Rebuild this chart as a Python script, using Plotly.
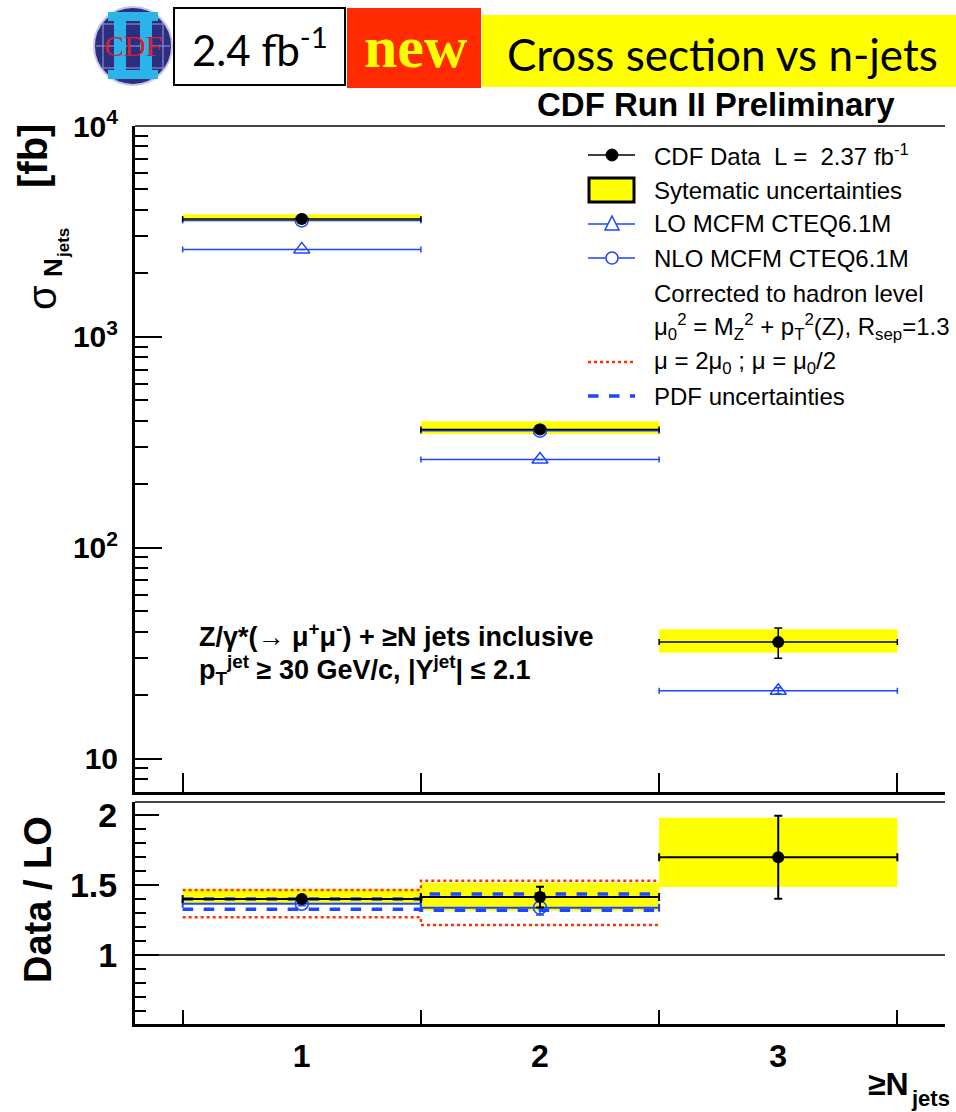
import math
import plotly.graph_objects as go

W, H = 956, 1112

# ---------------- data ----------------
n_jets = [1, 2, 3]
bin_half = [0.5, 0.5, 0.5]
bin_edges = [0.5, 1.5, 2.5, 3.5]

data_xs = [3620, 364, 35.7]
data_err_up = [35, 6, 5.9]
data_err_dn = [35, 6, 5.8]
syst_lo = [3515, 346, 31.8]
syst_hi = [3811, 398, 41.1]

lo_xs = [2600, 262, 21.0]
lo_err = [0, 0, 0.7]

nlo_jets = [1, 2]
nlo_xs = [3566, 359]

ratio = [1.40, 1.414, 1.698]
ratio_err_up = [0.012, 0.074, 0.297]
ratio_err_dn = [0.012, 0.074, 0.296]
ratio_syst_lo = [1.369, 1.316, 1.486]
ratio_syst_hi = [1.469, 1.516, 1.981]

nlo_ratio = [1.366, 1.338]
nlo_ratio_err = [0.015, 0.052]
scale_hi = [1.464, 1.531]
scale_lo = [1.269, 1.214]
pdf_hi = [1.400, 1.436]
pdf_lo = [1.326, 1.319]

y_major = [10, 100, 1000, 10000]
y_major_text = ["<b>10</b>", "<b>10<sup>2</sup></b>", "<b>10<sup>3</sup></b>", "<b>10<sup>4</sup></b>"]
r_major = [1, 1.5, 2]
r_major_text = ["<b>1</b>", "<b>1.5</b>", "<b>2</b>"]
x_labels = ["<b>1</b>", "<b>2</b>", "<b>3</b>"]

BLUE = "#1e46ff"
RED = "#ff3300"
YEL = "#ffff00"
FONT = "Liberation Sans, Arial, sans-serif"


def px(x):
    return x / W


def py(y):
    return 1 - y / H


fig = go.Figure()


def boxes(xc, lo, hi):
    xs, ys = [], []
    for c, a, b in zip(xc, lo, hi):
        xs += [c - 0.5, c + 0.5, c + 0.5, c - 0.5, c - 0.5, None]
        ys += [a, a, b, b, a, None]
    return xs, ys


def steps(xc, vals):
    xs = [c - 0.5 for c in xc] + [xc[-1] + 0.5]
    ys = list(vals) + [vals[-1]]
    return xs, ys


# ---------------- top panel ----------------
bx, by = boxes(n_jets, syst_lo, syst_hi)
fig.add_trace(go.Scatter(x=bx, y=by, fill="toself", fillcolor=YEL, mode="lines",
                         line=dict(width=0), xaxis="x", yaxis="y", hoverinfo="skip"))

fig.add_trace(go.Scatter(x=n_jets, y=lo_xs, mode="markers", xaxis="x", yaxis="y",
                         marker=dict(symbol="triangle-up-open", size=14, color=BLUE,
                                     line=dict(width=1.5, color=BLUE)),
                         error_x=dict(type="data", array=bin_half, color=BLUE, thickness=1.5, width=3),
                         error_y=dict(type="data", array=lo_err, color=BLUE, thickness=1.5, width=3)))

fig.add_trace(go.Scatter(x=nlo_jets, y=nlo_xs, mode="markers", xaxis="x", yaxis="y",
                         marker=dict(symbol="circle-open", size=13, color=BLUE,
                                     line=dict(width=1.5, color=BLUE)),
                         error_x=dict(type="data", array=bin_half[:2], color=BLUE, thickness=1.5, width=3)))

fig.add_trace(go.Scatter(x=n_jets, y=data_xs, mode="markers", xaxis="x", yaxis="y",
                         marker=dict(symbol="circle", size=12, color="black"),
                         error_x=dict(type="data", array=bin_half, color="black", thickness=1.5, width=3),
                         error_y=dict(type="data", array=data_err_up, arrayminus=data_err_dn,
                                      color="black", thickness=1.5, width=4)))

# ---------------- ratio panel ----------------
rx, ry = boxes(n_jets, ratio_syst_lo, ratio_syst_hi)
fig.add_trace(go.Scatter(x=rx, y=ry, fill="toself", fillcolor=YEL, mode="lines",
                         line=dict(width=0), xaxis="x2", yaxis="y2", hoverinfo="skip"))

for vals in (scale_hi, scale_lo):
    sx, sy = steps(nlo_jets, vals)
    fig.add_trace(go.Scatter(x=sx, y=sy, mode="lines", line_shape="hv", xaxis="x2", yaxis="y2",
                             line=dict(color=RED, width=2.5, dash="dot")))
for vals in (pdf_hi, pdf_lo):
    sx, sy = steps(nlo_jets, vals)
    fig.add_trace(go.Scatter(x=sx, y=sy, mode="lines", line_shape="hv", xaxis="x2", yaxis="y2",
                             line=dict(color=BLUE, width=3.5, dash="dash")))

fig.add_trace(go.Scatter(x=nlo_jets, y=nlo_ratio, mode="markers", xaxis="x2", yaxis="y2",
                         marker=dict(symbol="circle-open", size=13, color=BLUE,
                                     line=dict(width=1.5, color=BLUE)),
                         error_x=dict(type="data", array=bin_half[:2], color=BLUE, thickness=2, width=4),
                         error_y=dict(type="data", array=nlo_ratio_err, color=BLUE, thickness=1.5, width=4)))

fig.add_trace(go.Scatter(x=n_jets, y=ratio, mode="markers", xaxis="x2", yaxis="y2",
                         marker=dict(symbol="circle", size=12, color="black"),
                         error_x=dict(type="data", array=bin_half, color="black", thickness=2, width=4),
                         error_y=dict(type="data", array=ratio_err_up, arrayminus=ratio_err_dn,
                                      color="black", thickness=2, width=4)))

# ---------------- axes ----------------
XL, XR = 135, 945
minor_top = [m * 10 ** k for k in range(0, 4) for m in range(2, 10)] + [8, 9]
minor_top = sorted(set(v for v in minor_top if v not in y_major and v >= 7))
minor_r = [round(0.6 + 0.1 * i, 1) for i in range(15)]
minor_r = [v for v in minor_r if v not in r_major]

common_x = dict(domain=[px(XL), px(XR)], range=[0.3, 3.7], showgrid=False, zeroline=False,
                showline=True, linecolor="black", linewidth=3, ticks="", automargin=False)

fig.update_layout(
    width=W, height=H, margin=dict(l=0, r=0, t=0, b=0, pad=0, autoexpand=False), autosize=False,
    paper_bgcolor="white", plot_bgcolor="rgba(0,0,0,0)", showlegend=False,
    font=dict(family=FONT, color="black"),
    xaxis=dict(**common_x, anchor="y", showticklabels=False,
               minor=dict(tickmode="array", tickvals=bin_edges, ticks="inside", ticklen=19,
                          tickwidth=2, tickcolor="black", showgrid=False)),
    xaxis2=dict(**common_x, anchor="y2", matches="x", tickmode="array", tickvals=n_jets,
                ticktext=x_labels, tickfont=dict(size=32, family=FONT), ticklabelstandoff=2,
                minor=dict(tickmode="array", tickvals=bin_edges, ticks="inside", ticklen=14,
                           tickwidth=2, tickcolor="black", showgrid=False)),
    yaxis=dict(type="log", domain=[py(792), py(126)], range=[math.log10(6.95), 4.0], anchor="x",
               showgrid=False, zeroline=False, showline=True, linecolor="black", linewidth=3,
               ticks="inside", ticklen=27, tickwidth=2, tickcolor="black", automargin=False,
               tickmode="array", tickvals=y_major, ticktext=y_major_text,
               tickfont=dict(size=30, family=FONT), ticklabelstandoff=8,
               minor=dict(tickmode="array", tickvals=minor_top, ticks="inside", ticklen=13,
                          tickwidth=2, tickcolor="black", showgrid=False)),
    yaxis2=dict(domain=[py(1024), py(802)], range=[0.507, 2.093], anchor="x2",
                showgrid=False, zeroline=False, showline=True, linecolor="black", linewidth=3,
                ticks="inside", ticklen=24, tickwidth=2, tickcolor="black", automargin=False,
                tickmode="array", tickvals=r_major, ticktext=r_major_text,
                tickfont=dict(size=34, family=FONT), ticklabelstandoff=8,
                minor=dict(tickmode="array", tickvals=minor_r, ticks="inside", ticklen=11,
                           tickwidth=2, tickcolor="black", showgrid=False)),
)

shapes = []
# frame top lines
shapes.append(dict(type="line", xref="paper", yref="paper", x0=px(XL), x1=px(XR), y0=py(126), y1=py(126),
                   line=dict(color="#444444", width=2)))
shapes.append(dict(type="line", xref="paper", yref="paper", x0=px(XL), x1=px(XR), y0=py(802), y1=py(802),
                   line=dict(color="#444444", width=2)))
# ratio reference line at 1
shapes.append(dict(type="line", xref="x2 domain", yref="y2", x0=0, x1=1, y0=1, y1=1,
                   line=dict(color="black", width=1.5), layer="below"))

# ---------------- header ----------------
cx, cy, r = 133, 46, 39
shapes.append(dict(type="circle", xref="paper", yref="paper", x0=px(cx - r), x1=px(cx + r),
                   y0=py(cy + r), y1=py(cy - r), fillcolor="#2c2e80", line=dict(color="#c4c4e6", width=2)))
for hy in (24, 46, 68):
    d = math.sqrt(max(r * r - (hy - cy) ** 2, 0)) - 2
    shapes.append(dict(type="line", xref="paper", yref="paper", x0=px(cx - d), x1=px(cx + d),
                       y0=py(hy), y1=py(hy), line=dict(color="#9c9cd4", width=1)))
for vx in (103, 117, 149, 163):
    d = math.sqrt(max(r * r - (vx - cx) ** 2, 0)) - 2
    shapes.append(dict(type="line", xref="paper", yref="paper", x0=px(vx), x1=px(vx),
                       y0=py(cy - d), y1=py(cy + d), line=dict(color="#9c9cd4", width=1)))
for (x0, x1, y0, y1) in ((108, 158, 12, 21), (108, 158, 70, 79), (114, 126, 12, 79), (140, 152, 12, 79)):
    shapes.append(dict(type="rect", xref="paper", yref="paper", x0=px(x0), x1=px(x1),
                       y0=py(y1), y1=py(y0), fillcolor="#2ab4ea", line=dict(width=0)))
shapes.append(dict(type="rect", xref="paper", yref="paper", x0=px(174), x1=px(345), y0=py(85), y1=py(8),
                   fillcolor="white", line=dict(color="black", width=2)))
shapes.append(dict(type="rect", xref="paper", yref="paper", x0=px(347), x1=px(481), y0=py(88), y1=py(8),
                   fillcolor="#ff2a00", line=dict(width=0)))
shapes.append(dict(type="rect", xref="paper", yref="paper", x0=px(482), x1=px(956), y0=py(87), y1=py(15),
                   fillcolor=YEL, line=dict(width=0)))

# ---------------- legend symbols ----------------
LX0, LX1, LXC = 588, 635, 612
shapes.append(dict(type="line", xref="paper", yref="paper", x0=px(LX0), x1=px(LX1), y0=py(155), y1=py(155),
                   line=dict(color="black", width=1.5)))
shapes.append(dict(type="circle", xref="paper", yref="paper", x0=px(LXC - 6), x1=px(LXC + 6),
                   y0=py(161), y1=py(149), fillcolor="black", line=dict(color="black", width=1)))
shapes.append(dict(type="rect", xref="paper", yref="paper", x0=px(589), x1=px(634), y0=py(202), y1=py(178),
                   fillcolor=YEL, line=dict(color="black", width=3)))
shapes.append(dict(type="line", xref="paper", yref="paper", x0=px(LX0), x1=px(LX1), y0=py(224), y1=py(224),
                   line=dict(color=BLUE, width=1.5)))
shapes.append(dict(type="path", xref="paper", yref="paper",
                   path=f"M {px(LXC)},{py(216)} L {px(LXC + 7)},{py(230)} L {px(LXC - 7)},{py(230)} Z",
                   fillcolor="white", line=dict(color=BLUE, width=1.5)))
shapes.append(dict(type="line", xref="paper", yref="paper", x0=px(LX0), x1=px(LX1), y0=py(258), y1=py(258),
                   line=dict(color=BLUE, width=1.5)))
shapes.append(dict(type="circle", xref="paper", yref="paper", x0=px(LXC - 6), x1=px(LXC + 6),
                   y0=py(264), y1=py(252), fillcolor="white", line=dict(color=BLUE, width=1.5)))
shapes.append(dict(type="line", xref="paper", yref="paper", x0=px(LX0), x1=px(LX1), y0=py(362), y1=py(362),
                   line=dict(color=RED, width=2.5, dash="dot")))
shapes.append(dict(type="line", xref="paper", yref="paper", x0=px(LX0), x1=px(LX1), y0=py(396), y1=py(396),
                   line=dict(color=BLUE, width=3.5, dash="dash")))

fig.update_layout(shapes=shapes)

ann = []


def text(x, y, s, size, xanchor="left", yanchor="middle", color="black", family=FONT, angle=0):
    ann.append(dict(xref="paper", yref="paper", x=px(x), y=py(y), text=s, showarrow=False,
                    xanchor=xanchor, yanchor=yanchor, textangle=angle,
                    font=dict(size=size, color=color, family=family)))


# header texts
text(133, 46, "CDF", 30, xanchor="center", color="#d42030", family="Liberation Serif, serif")
text(260, 47, "2.4 fb<sup>-1</sup>", 42, xanchor="center", family="Lato, sans-serif")
text(416, 47, "<b>new</b>", 60, xanchor="center", color=YEL, family="Liberation Serif, serif")
text(722, 54, "Cross section vs n-jets", 44, xanchor="center", family="Lato, sans-serif")
text(716, 105, "<b>CDF Run II Preliminary</b>", 33, xanchor="center")

# legend texts
LT = 652
NB = "\u00a0"
text(LT, 155, f"CDF Data{NB}{NB}L ={NB}{NB}2.37 fb<sup>-1</sup>", 24)
text(LT, 190, "Sytematic uncertainties", 24)
text(LT, 224, "LO MCFM CTEQ6.1M", 24)
text(LT, 258, "NLO MCFM CTEQ6.1M", 24)
text(LT, 293, "Corrected to hadron level", 24)
text(LT, 327, "μ<sub>0</sub><sup>2</sup> = M<sub>Z</sub><sup>2</sup> + p<sub>T</sub><sup>2</sup>(Z), R<sub>sep</sub>=1.3", 24)
text(LT, 362, "μ = 2μ<sub>0</sub> ; μ = μ<sub>0</sub>/2", 24)
text(LT, 396, "PDF uncertainties", 24)

# in-plot label
text(197, 635, "<b>Z/γ*(→ μ<sup>+</sup>μ<sup>-</sup>) + ≥N jets inclusive</b>", 27)
text(197, 670, "<b>p<sub>T</sub><sup>jet</sup> ≥ 30 GeV/c, |Y<sup>jet</sup>| ≤ 2.1</b>", 27)

# axis titles
text(33, 156, "<b>[fb]</b>", 40, xanchor="center", angle=-90)
text(42, 298, "σ", 40, xanchor="center", angle=-90)
text(53, 268, "<b>N</b>", 26, xanchor="center", angle=-90)
text(64, 243, "<b>jets</b>", 17, xanchor="center", angle=-90)
text(38, 900, "<b>Data / LO</b>", 38, xanchor="center", angle=-90)
text(888, 1084, "<b>≥N</b>", 32, xanchor="center")
text(930, 1098, "<b>jets</b>", 22, xanchor="center")

fig.update_layout(annotations=ann)

fig.write_html("out.html", post_script="document.body.style.margin='0';document.body.style.overflow='hidden';")
